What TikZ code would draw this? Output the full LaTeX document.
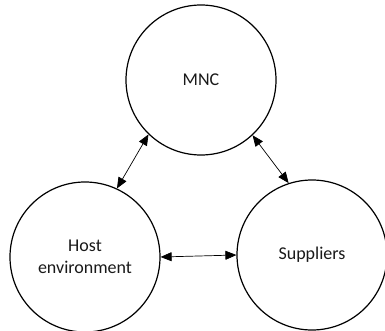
\documentclass[tikz,border=0pt]{standalone}
\usepackage{fontspec}
\setmainfont{Carlito}
\usetikzlibrary{arrows.meta,positioning}

\tikzset{
  party/.style={circle, draw, line width=1.2pt, minimum size=150pt, inner sep=0pt, align=center, text=black!90, font=\fontsize{18}{22}\selectfont},
  link/.style={{Triangle[length=11pt,width=9pt]}-{Triangle[length=11pt,width=9pt]}, line width=0.7pt}
}

\begin{document}
\begin{tikzpicture}[x=1pt,y=1pt]
    \useasboundingbox (0,0) rectangle (385,330);
    \node(mnc) [party] at (201,250) {MNC};
    \node(host) [party, on grid, below left = 177pt and 116pt of mnc] {Host\\environment};
    \node(supp) [party, on grid, below right = 175pt and 111pt of mnc] {Suppliers};
    \draw[link] (mnc.226) -- (host.65);
    \draw[link] (mnc.313) -- (supp.108);
    \draw[link] (host.east) -- (supp.west);
  \end{tikzpicture}
\end{document}
